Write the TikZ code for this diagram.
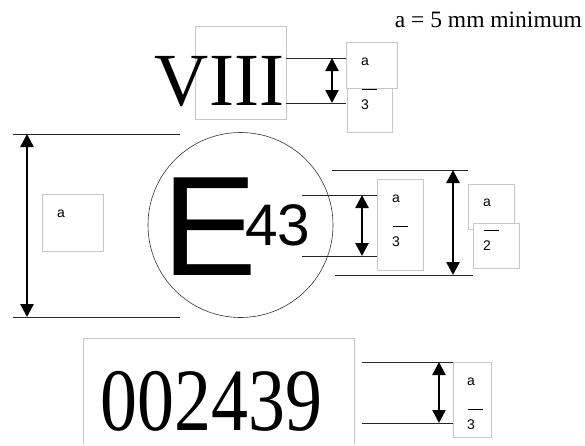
\documentclass[tikz,border=0pt]{standalone}
\usepackage{fontspec}
\setmainfont{Liberation Serif}
\newfontfamily\arialfont{Liberation Sans}
\usetikzlibrary{arrows.meta}
\tikzset{
	dimarrow/.style={line width=2.6pt, {Triangle[width=13pt,length=13pt]}-{Triangle[width=13pt,length=13pt]}},
	dimline/.style={line width=0.8pt, color=black!85},
	labelbox/.style={line width=0.6pt, color=black!22},
	fractext/.style={font=\arialfont\fontsize{14}{15}\selectfont, inner sep=0pt, anchor=west},
}
\def\fracmark#1(#2,#3)#4{\node[fractext] (#1top) at (#2,#3) {a};
	\draw[line width=0.7pt] (#2+1,#3+27) -- ++(15,0);
	\node[fractext] (#1bot) at (#2,#3+43) {#4};}

\begin{document}
\begin{tikzpicture}[x=1pt, y=-1pt]
			%%%%% START %%%%%
			\useasboundingbox (0,0) rectangle (585,445);
			
			\node[anchor=base east, inner sep=0pt, font=\fontsize{23.5}{28}\selectfont] (minnote) at (582,27) {a = 5 mm minimum};
			
			% top mark
			\draw[labelbox] (195,26) rectangle (286,119);
			\node[anchor=base, inner sep=0pt, font=\fontsize{75}{80}\selectfont] (roman) at (219.5,105) {VIII};
			\draw[dimline] (286,58) -- (346,58);
			\draw[dimline] (286,103) -- (346,103);
			\coordinate (romanhi) at (332,58);
			\coordinate (romanlo) at (332,103);
			\draw[dimarrow, line width=2.3pt] (romanhi) -- (romanlo);
			\draw[labelbox] (346,42) rectangle (397,88);
			\draw[labelbox, fill=white] (347,88) rectangle (392,132);
			\fracmark roman(361,62){3}
			
			% circle mark
			\draw[line width=0.6pt, color=black!80] (240.5,225) circle (92.5);
			\node[anchor=base west, inner sep=0pt, text depth=0pt, font=\arialfont\fontsize{142}{150}\selectfont] (emark) at (162,275) {E};
			\node[anchor=base west, inner sep=0pt, text depth=0pt, font=\arialfont\fontsize{58.6}{60}\selectfont] (enum) at (245,245) {43};
			
			\draw[dimline] (13,134) -- (180,134);
			\draw[dimline] (13,317) -- (180,317);
			\coordinate (bighi) at (27,134);
			\coordinate (biglo) at (27,317);
			\draw[dimarrow] (bighi) -- (biglo);
			\draw[labelbox] (42,194) rectangle (103,251);
			\node[fractext, anchor=center] (bigtext) at (61,214) {a};
			
			\draw[dimline] (302,195) -- (377,195);
			\draw[dimline] (302,256) -- (377,256);
			\coordinate (numhi) at (362,195);
			\coordinate (numlo) at (362,256);
			\draw[dimarrow] (numhi) -- (numlo);
			\draw[labelbox] (377,179) rectangle (423,270);
			\fracmark inner(392,199){3}
			
			\draw[dimline] (332,170) -- (468,170);
			\draw[dimline] (335,275) -- (473,275);
			\coordinate (circhi) at (453,170);
			\coordinate (circlo) at (453,275);
			\draw[dimarrow] (circhi) -- (circlo);
			\draw[labelbox] (468,184) rectangle (514,229);
			\draw[labelbox, fill=white] (473,223) rectangle (519,268);
			\fracmark outer(483,203){2}
			
			% bottom number
			\draw[labelbox] (83,445) -- (83,338) -- (354,338) -- (354,445);
			\node[anchor=base, inner sep=0pt, text depth=0pt, xscale=0.83, font=\fontsize{89}{90}\selectfont] (serial) at (211.5,430) {002439};
			\draw[dimline] (362,362) -- (453,362);
			\draw[dimline] (362,423) -- (453,423);
			\coordinate (serhi) at (439,362);
			\coordinate (serlo) at (439,423);
			\draw[dimarrow, line width=2.3pt] (serhi) -- (serlo);
			\draw[labelbox] (453,362) -- (491,362) -- (491,437) -- (453,437) -- cycle;
			\fracmark serial(467,382){3}
			
			%%%%% END %%%%%
\end{tikzpicture}
\end{document}
